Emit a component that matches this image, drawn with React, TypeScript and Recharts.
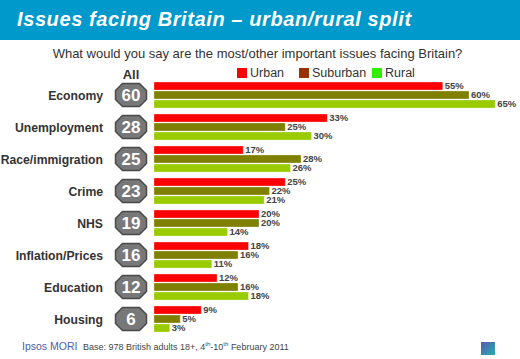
import React from "react";
import { BarChart, Bar, XAxis, YAxis, LabelList } from "recharts";

const categories = ["Economy", "Unemployment", "Race/immigration", "Crime", "NHS", "Inflation/Prices", "Education", "Housing"];
const allValues = [60, 28, 25, 23, 19, 16, 12, 6];
const urban = [55, 33, 17, 25, 20, 18, 12, 9];
const suburban = [60, 25, 28, 22, 20, 16, 16, 5];
const rural = [65, 30, 26, 21, 14, 11, 18, 3];

const seriesNames = ["Urban", "Suburban", "Rural"];
const barColors = ["#ff0000", "#7f7f00", "#99cc00"];
const legendColors = ["#ff0000", "#993300", "#33ee00"];

const data = categories.map((name, i) => ({
  name,
  all: allValues[i],
  Urban: urban[i],
  Suburban: suburban[i],
  Rural: rural[i],
}));

const FONT = "'Liberation Sans', Arial, sans-serif";

const CategoryTick = (props: any) => {
  const { x, y, payload, index } = props;
  const cx = x - 23;
  const w = 15.5;
  const h = 11.5;
  const c = 7;
  const pts = [
    [cx - w + c, y - h],
    [cx + w - c, y - h],
    [cx + w, y - h + c],
    [cx + w, y + h - c],
    [cx + w - c, y + h],
    [cx - w + c, y + h],
    [cx - w, y + h - c],
    [cx - w, y - h + c],
  ]
    .map((p) => p.join(","))
    .join(" ");
  const allVal = data[index] ? data[index].all : "";
  return (
    <g>
      <text x={x - 51} y={y} dy={4.5} textAnchor="end" fontFamily={FONT} fontWeight="bold" fontSize={12.2} fill="#333">
        {payload.value}
      </text>
      <polygon points={pts} fill="#787878" stroke="#4a4a4a" strokeWidth={1.5} />
      <text x={cx} y={y} dy={6} textAnchor="middle" fontFamily={FONT} fontWeight="bold" fontSize={17} fill="#fff">
        {allVal}
      </text>
    </g>
  );
};

const widths = [62, 73, 60];

export default function App() {
  return (
    <div style={{ position: "absolute", left: 0, top: 0, width: 520, height: 359, background: "#fff", overflow: "hidden", fontFamily: FONT }}>
      <div style={{ position: "absolute", left: 0, top: 0, width: 520, height: 40, background: "#0099cc" }} />
      <div
        style={{
          position: "absolute",
          left: 17,
          top: 8,
          color: "#fff",
          fontSize: 20,
          fontWeight: 900,
          fontStyle: "italic",
          letterSpacing: 0.6,
          whiteSpace: "nowrap",
        }}
      >
        Issues facing Britain – urban/rural split
      </div>
      <div style={{ position: "absolute", left: 0, width: 515, top: 46, textAlign: "center", fontSize: 13, color: "#333", whiteSpace: "nowrap" }}>
        What would you say are the most/other important issues facing Britain?
      </div>
      <div style={{ position: "absolute", left: 116, width: 30, top: 67, textAlign: "center", fontSize: 13, fontWeight: "bold", color: "#333" }}>
        All
      </div>
      <div style={{ position: "absolute", left: 237, top: 66, display: "flex", fontSize: 12.5, color: "#333" }}>
        {seriesNames.map((s, i) => (
          <div key={s} style={{ display: "flex", alignItems: "center", width: widths[i] }}>
            <span style={{ display: "inline-block", width: 10, height: 10, background: legendColors[i], marginRight: 3 }} />
            <span>{s}</span>
          </div>
        ))}
      </div>
      <div style={{ position: "absolute", left: 0, top: 0 }}>
        <BarChart
          width={520}
          height={359}
          data={data}
          layout="vertical"
          margin={{ top: 79, bottom: 24, left: 0, right: 9 }}
          barSize={8}
          barGap={1}
        >
          <XAxis type="number" domain={[0, 68]} hide />
          <YAxis
            type="category"
            dataKey="name"
            width={154}
            axisLine={false}
            tickLine={false}
            tickSize={0}
            tickMargin={0}
            tick={(p: any) => <CategoryTick {...p} />}
            interval={0}
          />
          {seriesNames.map((s, i) => (
            <Bar key={s} dataKey={s} fill={barColors[i]} stroke="#ffffff" strokeOpacity={0.6} strokeWidth={0.5} isAnimationActive={false}>
              <LabelList
                dataKey={s}
                position="right"
                offset={2}
                formatter={(v: any) => `${v}%`}
                style={{ fontFamily: FONT, fontSize: 9.5, fill: "#444", fontWeight: "bold" }}
              />
            </Bar>
          ))}
        </BarChart>
      </div>
      <div style={{ position: "absolute", left: 22, top: 340, fontSize: 10.5, color: "#4a5db0", whiteSpace: "nowrap" }}>Ipsos MORI</div>
      <div style={{ position: "absolute", left: 83, top: 341, fontSize: 9, color: "#444", whiteSpace: "nowrap" }}>
        Base: 978 British adults 18+, 4<sup style={{ fontSize: 6 }}>th</sup>-10<sup style={{ fontSize: 6 }}>th</sup> February 2011
      </div>
      <div
        style={{
          position: "absolute",
          left: 481,
          top: 342,
          width: 14,
          height: 13,
          background: "linear-gradient(135deg, #5a5ab0, #20b0b0)",
        }}
      />
    </div>
  );
}
